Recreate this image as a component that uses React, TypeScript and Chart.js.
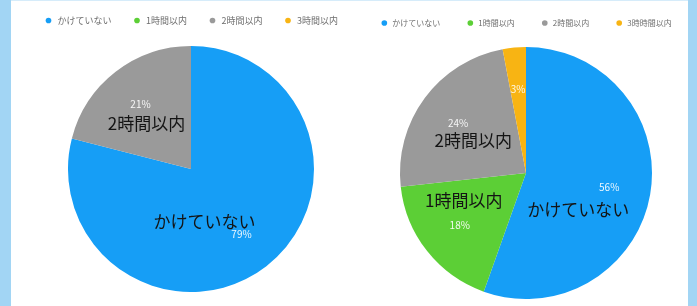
import React, { useEffect, useRef } from 'react';
import { Chart, registerables } from 'chart.js';

Chart.register(...registerables);

// ---- data ----
const categoriesLeft = ['かけていない', '1時間以内', '2時間以内', '3時間以内'];
const categoriesRight = ['かけていない', '1時間以内', '2時間以内', '3時時間以内'];
const valuesLeft = [79, 0, 21, 0];
const valuesRight = [56, 18, 24, 3];
const sliceNamesLeft = ['かけていない', '', '2時間以内', ''];
const sliceNamesRight = ['かけていない', '1時間以内', '2時間以内', ''];
const sliceColors = ['#169ef6', '#5ccf36', '#9a9a9a', '#f8b413'];

const FONT = "'Noto Sans CJK JP', 'Noto Sans', sans-serif";

type Layout = {
  left: number;
  top: number;
  width: number;
  height: number;
  fontSize: number;
  pad: number;
  spacer: number;
  nameOffsets: (number[] | null)[];
};

const layoutLeft: Layout = {
  left: 21,
  top: -5,
  width: 340,
  height: 297,
  fontSize: 9,
  pad: 21,
  spacer: 11,
  nameOffsets: [[-37, -13], null, [6, 20], null],
};

const layoutRight: Layout = {
  left: 353,
  top: -7,
  width: 346,
  height: 306,
  fontSize: 8,
  pad: 26,
  spacer: 10,
  nameOffsets: [[-31, 22], [4, -25], [15, 18], null],
};

function makeLabelPlugin(names: string[], offsets: (number[] | null)[]) {
  return {
    id: 'sliceLabels',
    afterDatasetsDraw(chart: any) {
      const ctx = chart.ctx;
      const meta = chart.getDatasetMeta(0);
      const data = chart.data.datasets[0].data as number[];
      ctx.save();
      meta.data.forEach((arc: any, i: number) => {
        const v = data[i];
        if (!v) return;
        const mid = (arc.startAngle + arc.endAngle) / 2;
        const r = arc.outerRadius * 0.67;
        const px = arc.x + Math.cos(mid) * r;
        const py = arc.y + Math.sin(mid) * r;
        ctx.textAlign = 'center';
        ctx.textBaseline = 'middle';
        ctx.fillStyle = 'rgba(255,255,255,0.92)';
        ctx.font = `10px ${FONT}`;
        ctx.fillText(`${v}%`, px, py);
        const off = offsets[i];
        if (names[i] && off) {
          ctx.fillStyle = '#141414';
          ctx.font = `17px ${FONT}`;
          ctx.fillText(names[i], px + off[0], py + off[1]);
        }
      });
      ctx.restore();
    },
  };
}

function PieChart(props: { labels: string[]; values: number[]; names: string[]; layout: Layout }) {
  const ref = useRef<HTMLCanvasElement | null>(null);
  const { labels, values, names, layout } = props;
  useEffect(() => {
    if (!ref.current) return;
    Chart.defaults.font.family = FONT;
    const chart = new Chart(ref.current, {
      type: 'pie',
      data: {
        labels,
        datasets: [
          {
            data: values,
            backgroundColor: sliceColors,
            borderWidth: 0,
          },
        ],
      },
      options: {
        responsive: false,
        animation: false,
        layout: { padding: 0 },
        plugins: {
          legend: {
            position: 'top',
            labels: {
              usePointStyle: true,
              pointStyle: 'circle',
              boxWidth: layout.fontSize,
              boxHeight: 4,
              padding: layout.pad,
              color: '#6e6e6e',
              font: { size: layout.fontSize, family: FONT },
            },
          },
          subtitle: {
            display: true,
            text: '',
            position: 'top',
            weight: 500,
            padding: 0,
            font: { size: layout.spacer, lineHeight: 1 },
          },
          tooltip: { enabled: false },
        },
      } as any,
      plugins: [makeLabelPlugin(names, layout.nameOffsets)],
    });
    return () => chart.destroy();
  }, []);
  return (
    <canvas
      ref={ref}
      width={layout.width}
      height={layout.height}
      style={{
        position: 'absolute',
        left: layout.left,
        top: layout.top,
        width: layout.width,
        height: layout.height,
      }}
    />
  );
}

export default function App() {
  return (
    <div
      style={{
        position: 'absolute',
        left: 0,
        top: 0,
        width: 697,
        height: 306,
        overflow: 'hidden',
        background: '#ffffff',
      }}
    >
      <PieChart labels={categoriesLeft} values={valuesLeft} names={sliceNamesLeft} layout={layoutLeft} />
      <PieChart labels={categoriesRight} values={valuesRight} names={sliceNamesRight} layout={layoutRight} />
      <div style={{ position: 'absolute', left: 0, top: 0, width: 697, height: 1, background: '#d6ecfa' }} />
      <div style={{ position: 'absolute', left: 0, top: 0, width: 11, height: 306, background: '#a2d5f4' }} />
      <div style={{ position: 'absolute', left: 688, top: 0, width: 9, height: 306, background: '#a2d5f4' }} />
    </div>
  );
}
